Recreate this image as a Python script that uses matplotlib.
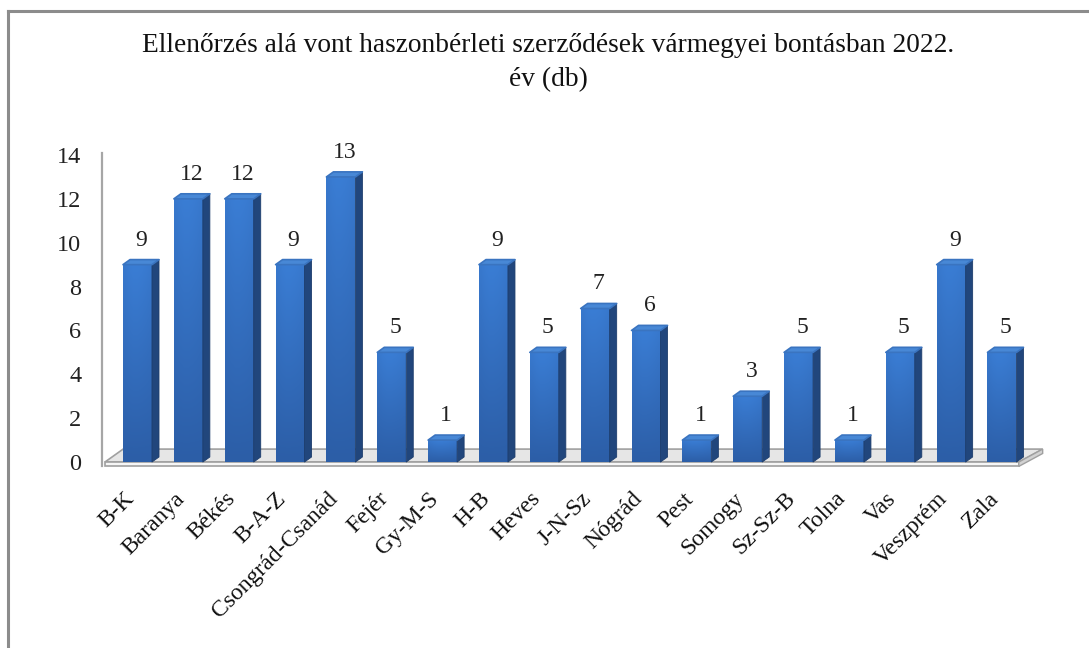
import numpy as np
import matplotlib
matplotlib.use("Agg")
import matplotlib.pyplot as plt
from matplotlib.patches import Polygon
from matplotlib.colors import LinearSegmentedColormap

categories = ["B-K", "Baranya", "Békés", "B-A-Z", "Csongrád-Csanád", "Fejér",
              "Gy-M-S", "H-B", "Heves", "J-N-Sz", "Nógrád", "Pest", "Somogy",
              "Sz-Sz-B", "Tolna", "Vas", "Veszprém", "Zala"]
values = [9, 12, 12, 9, 13, 5, 1, 9, 5, 7, 6, 1, 3, 5, 1, 5, 9, 5]
yticks = [0, 2, 4, 6, 8, 10, 12, 14]
title_lines = ["Ellenőrzés alá vont haszonbérleti szerződések vármegyei bontásban 2022.",
               "év (db)"]

FONT = ["Liberation Serif", "DejaVu Serif"]
plt.rcParams["font.family"] = FONT

W, H = 1089, 648
fig = plt.figure(figsize=(W / 100, H / 100), dpi=100)
fig.patch.set_facecolor("white")

# frame (top and left edges visible)
fig.add_artist(plt.Line2D([8 / W, 1.0], [1 - 11 / H, 1 - 11 / H], color="#8c8c8c", lw=2.2))
fig.add_artist(plt.Line2D([8 / W, 8 / W], [0, 1 - 11 / H], color="#8c8c8c", lw=2.2))

ax = fig.add_axes([95.8 / W, (H - 473) / H, 955 / W, 322.4 / H])
ax.set_xlim(-0.82, 17.96)
ax.set_ylim(-0.5, 14.2)
for s in ax.spines.values():
    s.set_visible(False)
ax.set_xticks([])
ax.set_yticks(yticks)
ax.set_yticklabels([str(t) for t in yticks], fontsize=17.5, color="#222222")
ax.tick_params(axis="y", length=0, pad=10.5)
ax.set_facecolor("none")

# vertical axis line
ax.plot([-0.698, -0.698], [14.1, -0.2], color="#a6a6a6", lw=1.6, zorder=1)

# floor
n = len(categories)
fl_l, fl_r = -0.64, n - 1 + 0.33
fdx, fdy = 0.47, 0.59
top = Polygon([(fl_l, 0), (fl_r, 0), (fl_r + fdx, fdy), (fl_l + fdx * 0.76, fdy)],
              closed=True, facecolor="#e6e6e6", edgecolor="#a0a0a0", lw=1.2, zorder=2)
ax.add_patch(top)
front = Polygon([(fl_l, 0), (fl_r, 0), (fl_r, -0.2), (fl_l, -0.2)], closed=True,
                facecolor="#f6f6f6", edgecolor="#a0a0a0", lw=1.2, zorder=2)
ax.add_patch(front)
side = Polygon([(fl_r, 0), (fl_r + fdx, fdy), (fl_r + fdx, fdy - 0.2), (fl_r, -0.2)],
               closed=True, facecolor="#d2d2d2", edgecolor="#a0a0a0", lw=1.0, zorder=2)
ax.add_patch(side)

# bars
hw = 0.285
dx, dy = 0.138, 0.23
cmap = LinearSegmentedColormap.from_list("b", ["#2c5ea7", "#3a7dd4"])
grad_v = np.linspace(0, 1, 64).reshape(-1, 1)
horiz = np.array([0.85, 0.95, 1.0, 1.0, 0.97, 0.92, 0.85]).reshape(1, -1)
for i, v in enumerate(values):
    x0, x1 = i - hw, i + hw
    ax.imshow(grad_v * horiz, cmap=cmap, vmin=0, vmax=1, origin="lower",
              extent=[x0, x1, 0, v], aspect="auto", zorder=3,
              interpolation="bilinear")
    ax.add_patch(Polygon([(x1, 0), (x1 + dx, dy), (x1 + dx, v + dy), (x1, v)],
                         closed=True, facecolor="#21467c", edgecolor="#1d3d6c",
                         lw=0.6, zorder=3, joinstyle="round"))
    ax.add_patch(Polygon([(x0, v), (x1, v), (x1 + dx, v + dy), (x0 + dx, v + dy)],
                         closed=True, facecolor="#4888d6", edgecolor="#3a74c0",
                         lw=1.2, zorder=3, joinstyle="round"))
    ax.text(i + 0.07, v + 1.12, str(v), ha="center", va="center",
            fontsize=17, color="#222222", zorder=4)
    ax.text(i - 0.28, -1.2, categories[i], ha="right", va="top", rotation=45,
            rotation_mode="anchor", fontsize=17, color="#111111", zorder=4)

ax.set_aspect("auto")

fig.text(548 / W, 1 - 46 / H, title_lines[0], ha="center", va="center",
         fontsize=19.7, color="#111111")
fig.text(548 / W, 1 - 80 / H, title_lines[1], ha="center", va="center",
         fontsize=19.7, color="#111111")

fig.savefig("out.png", dpi=100, facecolor="white")
